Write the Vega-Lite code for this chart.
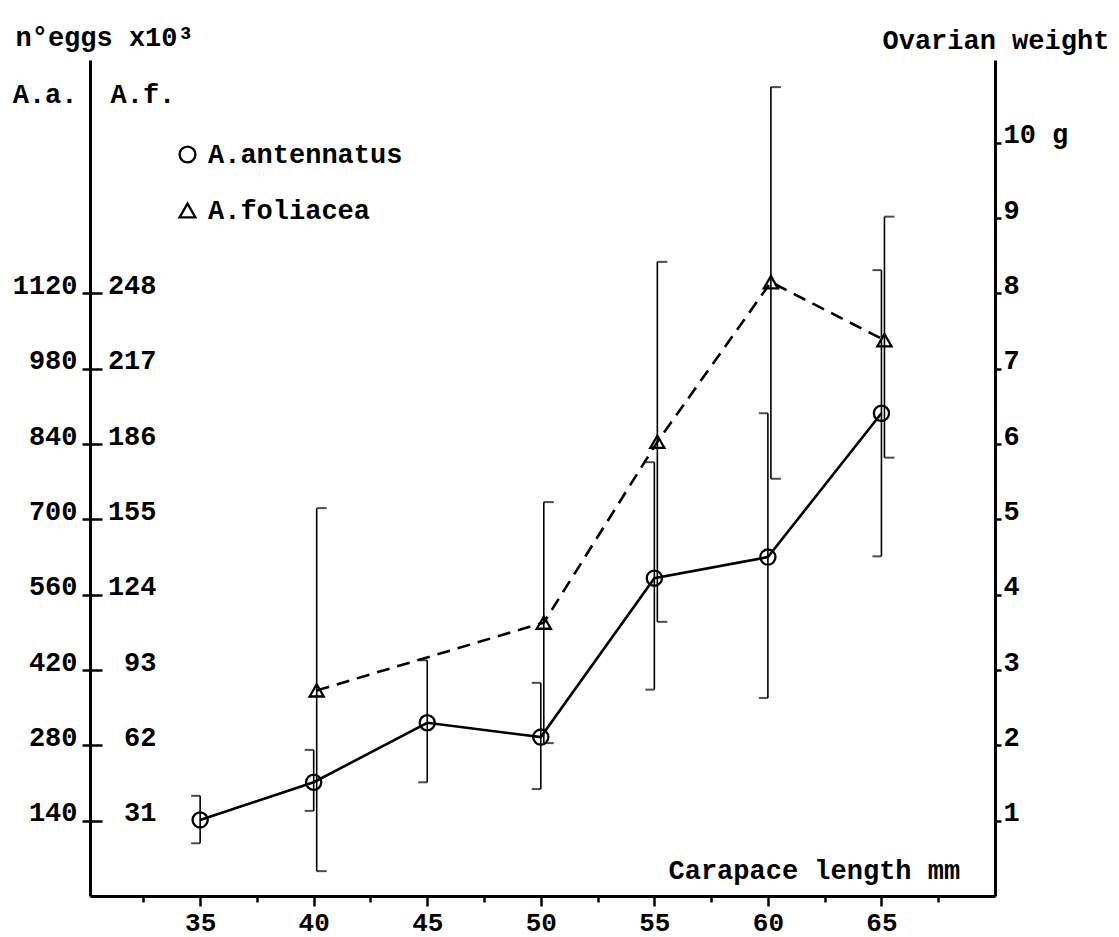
{
  "$schema": "https://vega.github.io/schema/vega-lite/v6.json",
  "width": 905,
  "height": 836,
  "autosize": {"type": "none"},
  "padding": {"left": 90, "top": 60, "right": 124, "bottom": 41},
  "background": "white",
  "config": {
    "view": {"stroke": null},
    "font": "Liberation Mono",
    "axis": {
      "labelFont": "Liberation Mono", "labelFontSize": 27, "labelColor": "#000", "labelFontWeight": "bold",
      "titleFont": "Liberation Mono", "titleFontSize": 27, "titleFontWeight": "bold", "titleColor": "#000",
      "domainColor": "#000", "tickColor": "#000", "grid": false, "domainWidth": 3, "tickWidth": 2.5,
      "labelOverlap": false, "labelFlush": false, "titlePadding": 0, "labelLimit": 0
    },
    "legend": {
      "labelFont": "Liberation Mono", "labelFontSize": 27, "labelColor": "#000", "labelFontWeight": "bold", "labelLimit": 0
    }
  },
  "datasets": {
    "aa": [
      {"series": "A.antennatus", "len": 35, "w": 1.01, "lo": 0.70, "hi": 1.33},
      {"series": "A.antennatus", "len": 40, "w": 1.51, "lo": 1.13, "hi": 1.94},
      {"series": "A.antennatus", "len": 45, "w": 2.30, "lo": 1.51, "hi": 3.13},
      {"series": "A.antennatus", "len": 50, "w": 2.11, "lo": 1.42, "hi": 2.83},
      {"series": "A.antennatus", "len": 55, "w": 4.22, "lo": 2.74, "hi": 5.76},
      {"series": "A.antennatus", "len": 60, "w": 4.50, "lo": 2.63, "hi": 6.41},
      {"series": "A.antennatus", "len": 65, "w": 6.41, "lo": 4.51, "hi": 8.31}
    ],
    "af": [
      {"series": "A.foliacea", "len": 40, "w": 2.73, "lo": 0.33, "hi": 5.15},
      {"series": "A.foliacea", "len": 50, "w": 3.63, "lo": 2.03, "hi": 5.23},
      {"series": "A.foliacea", "len": 55, "w": 6.03, "lo": 3.64, "hi": 8.42},
      {"series": "A.foliacea", "len": 60, "w": 8.15, "lo": 5.54, "hi": 10.74},
      {"series": "A.foliacea", "len": 65, "w": 7.38, "lo": 5.82, "hi": 9.02}
    ]
  },
  "resolve": {"axis": {"x": "independent", "y": "independent"}},
  "layer": [
    {
      "data": {"name": "aa"},
      "mark": {"type": "rule", "color": "#000", "strokeWidth": 1.6},
      "encoding": {
        "x": {"field": "len", "type": "quantitative", "scale": {"domain": [30.15, 70], "nice": false, "zero": false},
          "axis": {"orient": "bottom", "values": [35, 40, 45, 50, 55, 60, 65], "format": "d", "tickSize": 10, "labelPadding": 3, "labelFontSize": 26,
            "title": "Carapace length mm", "titleX": 578, "titleY": -18, "titleAlign": "left", "titleBaseline": "alphabetic", "titleAngle": 0}},
        "y": {"field": "lo", "type": "quantitative", "scale": {"domain": [0, 11.1], "nice": false, "zero": true},
          "axis": {"orient": "left", "values": [1, 2, 3, 4, 5, 6, 7, 8],
            "labelExpr": "['','140','280','420','560','700','840','980','1120'][datum.value]",
            "tickSize": 8, "labelPadding": 5, "labelBaseline": "alphabetic",
            "title": "A.a.", "titleAngle": 0, "titleX": -13, "titleY": 42, "titleAlign": "right", "titleBaseline": "alphabetic"}},
        "y2": {"field": "hi"}
      }
    },
    {
      "data": {"name": "af"},
      "mark": {"type": "rule", "color": "#000", "strokeWidth": 1.6, "xOffset": 3},
      "encoding": {
        "x": {"field": "len", "type": "quantitative", "scale": {"domain": [30.15, 70], "nice": false, "zero": false},
          "axis": {"orient": "bottom", "values": [32.5, 37.5, 42.5, 47.5, 52.5, 57.5, 62.5, 67.5], "labels": false, "domain": false, "tickSize": 6,
            "title": "n°eggs x10³", "titleX": -75, "titleY": -851, "titleAlign": "left", "titleBaseline": "alphabetic", "titleAngle": 0}},
        "y": {"field": "lo", "type": "quantitative", "scale": {"domain": [0, 11.1], "nice": false, "zero": true},
          "axis": {"orient": "right", "offset": -905, "values": [1, 2, 3, 4, 5, 6, 7, 8],
            "labelExpr": "['','31','62','93','124','155','186','217','248'][datum.value]",
            "domain": false, "tickSize": 12, "labelAlign": "right", "labelPadding": 54, "labelBaseline": "alphabetic",
            "title": "A.f.", "titleAngle": 0, "titleX": 20, "titleY": 42, "titleAlign": "left", "titleBaseline": "alphabetic"}},
        "y2": {"field": "hi"}
      }
    },
    {
      "data": {"name": "aa"},
      "mark": {"type": "tick", "orient": "horizontal", "size": 9, "thickness": 2, "xOffset": -4.5, "color": "#000"},
      "encoding": {
        "x": {"field": "len", "type": "quantitative", "axis": null},
        "y": {"field": "lo", "type": "quantitative",
          "axis": {"orient": "right", "values": [1, 2, 3, 4, 5, 6, 7, 8, 9, 10],
            "labelExpr": "datum.value == 10 ? '10 g' : datum.label",
            "tickSize": 6, "labelPadding": 2, "labelBaseline": "alphabetic",
            "title": "Ovarian weight", "titleAngle": 0, "titleX": -113, "titleY": -12, "titleAlign": "left", "titleBaseline": "alphabetic"}}
      }
    },
    {
      "data": {"name": "aa"},
      "mark": {"type": "tick", "orient": "horizontal", "size": 9, "thickness": 2, "xOffset": -4.5, "color": "#000"},
      "encoding": {
        "x": {"field": "len", "type": "quantitative", "axis": null},
        "y": {"field": "hi", "type": "quantitative", "axis": null}
      }
    },
    {
      "data": {"name": "af"},
      "mark": {"type": "tick", "orient": "horizontal", "size": 10, "thickness": 2, "xOffset": 8, "color": "#000"},
      "encoding": {
        "x": {"field": "len", "type": "quantitative", "axis": null},
        "y": {"field": "lo", "type": "quantitative", "axis": null}
      }
    },
    {
      "data": {"name": "af"},
      "mark": {"type": "tick", "orient": "horizontal", "size": 10, "thickness": 2, "xOffset": 8, "color": "#000"},
      "encoding": {
        "x": {"field": "len", "type": "quantitative", "axis": null},
        "y": {"field": "hi", "type": "quantitative", "axis": null}
      }
    },
    {
      "data": {"name": "aa"},
      "mark": {"type": "line", "color": "#000", "strokeWidth": 2.6},
      "encoding": {
        "x": {"field": "len", "type": "quantitative", "axis": null},
        "y": {"field": "w", "type": "quantitative", "axis": null}
      }
    },
    {
      "data": {"name": "af"},
      "mark": {"type": "line", "color": "#000", "strokeWidth": 2.6, "strokeDash": [13, 8], "xOffset": 3},
      "encoding": {
        "x": {"field": "len", "type": "quantitative", "axis": null},
        "y": {"field": "w", "type": "quantitative", "axis": null}
      }
    },
    {
      "data": {"name": "aa"},
      "mark": {"type": "point", "filled": false, "color": "#000", "strokeWidth": 2.3, "size": 230, "opacity": 1},
      "encoding": {
        "x": {"field": "len", "type": "quantitative", "axis": null},
        "y": {"field": "w", "type": "quantitative", "axis": null},
        "shape": {"field": "series", "type": "nominal",
          "scale": {"domain": ["A.antennatus", "A.foliacea"], "range": ["circle", "triangle-up"]},
          "legend": {"orient": "none", "legendX": 84, "legendY": 81, "title": null, "padding": 0,
            "symbolStrokeColor": "#000", "symbolFillColor": "transparent", "symbolStrokeWidth": 2.3, "symbolSize": 250,
            "labelOffset": 7, "rowPadding": 28}}
      }
    },
    {
      "data": {"name": "af"},
      "mark": {"type": "point", "filled": false, "color": "#000", "strokeWidth": 2.3, "size": 200, "opacity": 1, "xOffset": 3},
      "encoding": {
        "x": {"field": "len", "type": "quantitative", "axis": null},
        "y": {"field": "w", "type": "quantitative", "axis": null},
        "shape": {"field": "series", "type": "nominal",
          "scale": {"domain": ["A.antennatus", "A.foliacea"], "range": ["circle", "triangle-up"]}}
      }
    }
  ]
}
